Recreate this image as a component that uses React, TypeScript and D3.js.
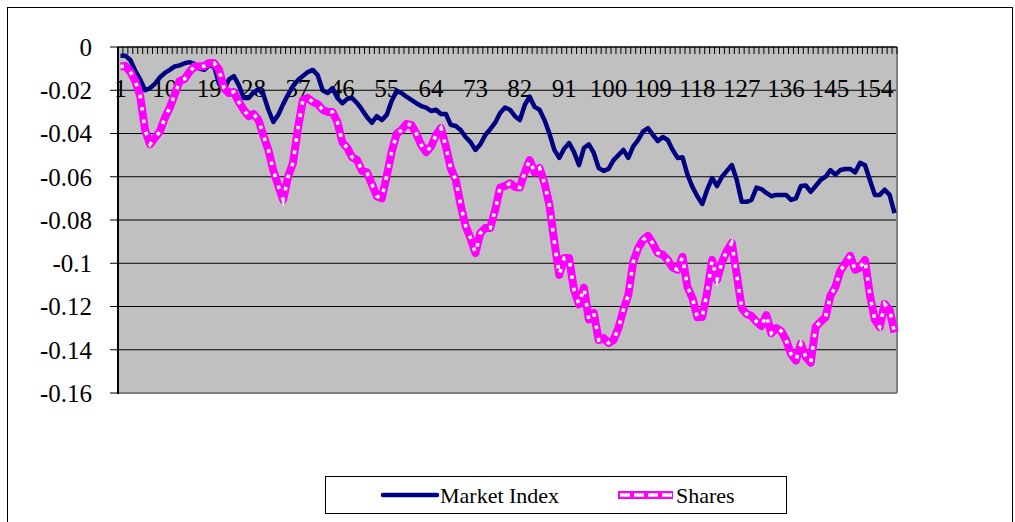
import React from "react";
import * as d3 from "d3";

const marketIndex: number[] = [
  -0.004, -0.004, -0.006, -0.011, -0.015, -0.02, -0.019, -0.017, -0.014, -0.012,
  -0.0106, -0.009, -0.0085, -0.0075, -0.007, -0.0078, -0.01, -0.0105, -0.0085, -0.009,
  -0.017, -0.02, -0.015, -0.0135, -0.0176, -0.0236, -0.0236, -0.021, -0.0195, -0.022,
  -0.029, -0.0347, -0.0314, -0.0264, -0.022, -0.018, -0.0153, -0.0134, -0.0116, -0.0106,
  -0.013, -0.02, -0.0213, -0.019, -0.0236, -0.026, -0.024, -0.0236, -0.026, -0.029,
  -0.0324, -0.035, -0.032, -0.0338, -0.0314, -0.025, -0.0203, -0.0213, -0.023, -0.0245,
  -0.026, -0.0273, -0.028, -0.0296, -0.029, -0.031, -0.031, -0.036, -0.0365, -0.0384,
  -0.0416, -0.044, -0.0476, -0.045, -0.0407, -0.038, -0.035, -0.0305, -0.028, -0.029,
  -0.032, -0.0338, -0.0268, -0.023, -0.0277, -0.029, -0.0338, -0.04, -0.0476, -0.0513,
  -0.047, -0.0444, -0.0486, -0.0546, -0.0467, -0.045, -0.049, -0.056, -0.0573, -0.0564,
  -0.0523, -0.05, -0.0476, -0.0513, -0.046, -0.043, -0.039, -0.0375, -0.0407, -0.0435,
  -0.0416, -0.043, -0.0476, -0.0513, -0.051, -0.059, -0.0647, -0.069, -0.0726, -0.066,
  -0.0606, -0.0643, -0.06, -0.0573, -0.0546, -0.0615, -0.0716, -0.0716, -0.0707, -0.065,
  -0.0657, -0.0675, -0.069, -0.0684, -0.0684, -0.0684, -0.0707, -0.07, -0.0643, -0.064,
  -0.067, -0.0643, -0.0615, -0.06, -0.0569, -0.059, -0.0569, -0.0564, -0.0564, -0.058,
  -0.0536, -0.0546, -0.0615, -0.0684, -0.0684, -0.066, -0.0684, -0.0768,
];

const shares: number[] = [
  -0.009, -0.0088, -0.0115, -0.0157, -0.0227, -0.0384, -0.045, -0.042, -0.039, -0.0328,
  -0.028, -0.022, -0.0157, -0.0148, -0.0115, -0.009, -0.009, -0.0088, -0.0074, -0.0074,
  -0.0106, -0.019, -0.0213, -0.0208, -0.0254, -0.029, -0.032, -0.031, -0.0338, -0.041,
  -0.0476, -0.057, -0.064, -0.0707, -0.06, -0.0536, -0.0375, -0.0245, -0.0236, -0.0254,
  -0.0264, -0.029, -0.03, -0.03, -0.0347, -0.044, -0.0467, -0.051, -0.0523, -0.0573,
  -0.058, -0.0634, -0.069, -0.07, -0.0597, -0.0486, -0.0402, -0.0384, -0.0356, -0.036,
  -0.04, -0.0453, -0.0486, -0.046, -0.0407, -0.0375, -0.046, -0.056, -0.0615, -0.073,
  -0.0828, -0.0883, -0.0953, -0.086, -0.0837, -0.0837, -0.0754, -0.065, -0.0643, -0.063,
  -0.0647, -0.065, -0.058, -0.0523, -0.058, -0.056, -0.063, -0.073, -0.09, -0.1054,
  -0.0976, -0.0976, -0.1124, -0.119, -0.1114, -0.126, -0.123, -0.1355, -0.1346, -0.1369,
  -0.1355, -0.13, -0.1216, -0.1147, -0.0994, -0.093, -0.0892, -0.0874, -0.091, -0.0953,
  -0.096, -0.0985, -0.102, -0.103, -0.097, -0.111, -0.116, -0.125, -0.1249, -0.1133,
  -0.0985, -0.1077, -0.0994, -0.0943, -0.0906, -0.1054, -0.1207, -0.1235, -0.1244, -0.127,
  -0.129, -0.124, -0.1323, -0.13, -0.1313, -0.1355, -0.142, -0.145, -0.1373, -0.1433,
  -0.146, -0.1295, -0.127, -0.125, -0.115, -0.111, -0.1036, -0.1, -0.0966, -0.103,
  -0.102, -0.0985, -0.1147, -0.126, -0.1295, -0.1188, -0.1216, -0.132,
];

const categories: number[] = marketIndex.map((_, i) => i + 1);
const categoryLabels: number[] = [1, 10, 19, 28, 37, 46, 55, 64, 73, 82, 91, 100, 109, 118, 127, 136, 145, 154];
const yTicks: number[] = [0, -0.02, -0.04, -0.06, -0.08, -0.1, -0.12, -0.14, -0.16];
const seriesNames: string[] = ["Market Index", "Shares"];

const W = 1015;
const H = 522;
const L = 118;
const R = 897;
const T = 47;
const B = 393;
const FONT = '"Liberation Serif", "Times New Roman", "DejaVu Serif", serif';
const axisTxt: React.CSSProperties = { fontFamily: FONT, fontSize: "25px" };
const legTxt: React.CSSProperties = { fontFamily: FONT, fontSize: "22px" };

export default function App() {
  const x = d3.scaleBand<number>().domain(categories).range([L, R]).padding(0);
  const y = d3.scaleLinear().domain([-0.16, 0]).range([B, T]);
  const cx = (c: number) => (x(c) as number) + x.bandwidth() / 2;

  const line = d3
    .line<number>()
    .x((_, i) => cx(categories[i]))
    .y((d) => y(d));

  const tickXs = categories.map((c) => x(c) as number).concat([R]);

  return (
    <svg
      width={W}
      height={H}
      style={{ position: "absolute", left: 0, top: 0, background: "#fff" }}
    >
      <rect x={7.5} y={7.5} width={1005} height={530} fill="#fff" stroke="#000" strokeWidth={1} />
      <rect x={L} y={T} width={R - L} height={B - T} fill="#C0C0C0" />
      {yTicks.slice(1).map((t) => (
        <line key={"g" + t} x1={L} x2={R} y1={y(t)} y2={y(t)} stroke="#000" strokeWidth={1} />
      ))}
      <line x1={R} x2={R} y1={T} y2={B} stroke="#808080" strokeWidth={2} />
      <line x1={L} x2={R} y1={B} y2={B} stroke="#808080" strokeWidth={2} />
      <line x1={L} x2={L} y1={T} y2={B + 1} stroke="#000" strokeWidth={2} />
      {yTicks.map((t) => (
        <g key={"y" + t}>
          <line x1={L - 8} x2={L} y1={y(t)} y2={y(t)} stroke="#000" strokeWidth={1} />
          <text x={92} y={y(t)} dy="0.35em" textAnchor="end" style={axisTxt} fill="#000">
            {String(t)}
          </text>
        </g>
      ))}
      <line x1={L} x2={R} y1={T} y2={T} stroke="#000" strokeWidth={1.5} />
      {tickXs.map((tx, i) => (
        <line key={"t" + i} x1={tx} x2={tx} y1={T} y2={T + 7} stroke="#000" strokeWidth={1} />
      ))}
      {categoryLabels.map((c) => (
        <text key={"c" + c} x={cx(c)} y={97} textAnchor="middle" style={axisTxt} fill="#000">
          {c}
        </text>
      ))}
      <path d={line(marketIndex) || ""} fill="none" stroke="#000080" strokeWidth={4.5} strokeLinejoin="round" />
      <path d={line(shares) || ""} fill="none" stroke="#FF00FF" strokeWidth={8} strokeLinejoin="round" />
      <path d={line(shares) || ""} fill="none" stroke="#FFFFFF" strokeWidth={3.5} strokeDasharray="3.5 9" />

      <rect x={325.5} y={476.5} width={461} height={37} fill="#fff" stroke="#000" strokeWidth={1} />
      <line x1={383} x2={437} y1={495} y2={495} stroke="#000080" strokeWidth={4.5} strokeLinecap="round" />
      <text x={440} y={503} style={legTxt} fill="#000">{seriesNames[0]}</text>
      <line x1={618} x2={673} y1={495} y2={495} stroke="#FF00FF" strokeWidth={8} />
      <line x1={620} x2={673} y1={495} y2={495} stroke="#FFFFFF" strokeWidth={3.5} strokeDasharray="10 4" />
      <text x={676} y={503} style={legTxt} fill="#000">{seriesNames[1]}</text>
    </svg>
  );
}
